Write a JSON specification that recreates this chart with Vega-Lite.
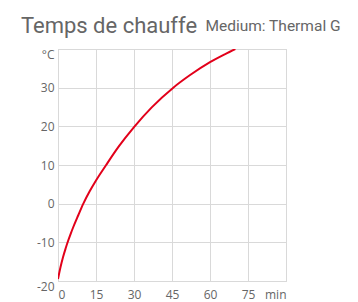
{
  "$schema": "https://vega.github.io/schema/vega-lite/v6.json",
  "padding": {"left": 20, "top": 15, "right": 5, "bottom": 5},
  "background": "white",
  "title": {"text": "Temps de chauffe", "anchor": "start", "font": "Roboto", "fontSize": 22, "fontWeight": "normal", "color": "#666666", "dx": -15, "offset": -20},
  "config": {
    "view": {"stroke": "#cccccc", "strokeWidth": 1},
    "axis": {"grid": true, "gridColor": "#d9d9d9", "gridWidth": 1, "domain": false, "ticks": false, "labelFont": "Open Sans", "labelFontSize": 12, "labelColor": "#666666", "title": null}
  },
  "vconcat": [
    {
      "width": 228,
      "height": 232,
      "title": {"text": "Medium: Thermal G", "anchor": "start", "font": "Roboto", "fontSize": 15.5, "fontWeight": "normal", "color": "#666666", "dx": 169, "offset": 14},
      "data": {"values": [
        {"t": 0, "T": -19.5}, {"t": 1, "T": -16.4}, {"t": 2, "T": -13.8}, {"t": 3, "T": -11.6},
        {"t": 4, "T": -9.6}, {"t": 5, "T": -7.8}, {"t": 6, "T": -6.1}, {"t": 8, "T": -3.0},
        {"t": 10, "T": 0}, {"t": 12.5, "T": 3.2}, {"t": 15, "T": 6}, {"t": 19, "T": 10},
        {"t": 24, "T": 14.8}, {"t": 30, "T": 19.8}, {"t": 37, "T": 24.9}, {"t": 45.5, "T": 30},
        {"t": 52, "T": 33.2}, {"t": 60, "T": 36.6}, {"t": 66, "T": 38.7}, {"t": 70, "T": 40}
      ]},
      "mark": {"type": "line", "color": "#e2001a", "strokeWidth": 2, "interpolate": "monotone", "clip": true},
      "encoding": {
        "x": {"field": "t", "type": "quantitative", "scale": {"domain": [0, 90], "nice": false},
          "axis": {"values": [0, 15, 30, 45, 60, 75, 90], "labelExpr": "datum.value == 90 ? 'min' : '' + datum.value", "labelFlush": true, "labelPadding": 8}},
        "y": {"field": "T", "type": "quantitative", "scale": {"domain": [-20, 40], "nice": false},
          "axis": {"values": [-20, -10, 0, 10, 20, 30, 40], "labelExpr": "datum.value == 40 ? '°C' : '' + datum.value", "labelPadding": 4, "labelFlush": false,
            "labelBaseline": {"condition": {"test": "datum.value == -20 || datum.value == 40", "value": "top"}, "value": "middle"}}}
      }
    }
  ]
}
